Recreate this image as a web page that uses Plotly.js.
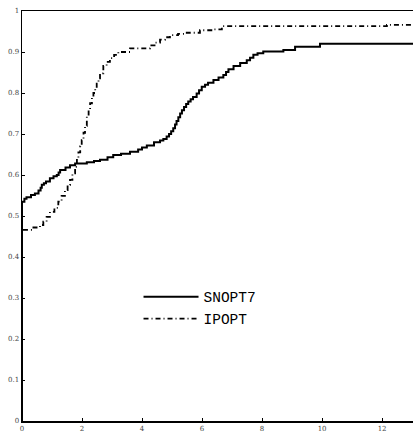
<!DOCTYPE html>
<html>
<head>
<meta charset="utf-8">
<script src="https://cdn.plot.ly/plotly-3.0.1.min.js"></script>
<style>html,body{margin:0;padding:0;background:#fff;}#chart{width:413px;height:432px;}</style>
</head>
<body>
<div id="chart"></div>
<script>
var seriesNames = ["SNOPT7", "IPOPT"];
var snoptX = [0,0,0.08,0.15,0.3,0.43,0.55,0.62,0.66,0.73,0.8,0.93,1.05,1.16,1.22,1.27,1.45,1.6,1.77,2.16,2.4,2.6,2.85,3.04,3.3,3.6,3.87,4.0,4.16,4.4,4.6,4.71,4.82,4.9,4.97,5.04,5.1,5.15,5.21,5.27,5.33,5.4,5.47,5.54,5.62,5.7,5.82,5.9,5.99,6.1,6.2,6.38,6.55,6.71,6.8,6.88,7.05,7.27,7.49,7.6,7.71,7.85,8.04,8.71,9.1,9.93,13.1];
var snoptY = [0,0.535,0.542,0.546,0.551,0.555,0.562,0.569,0.576,0.58,0.584,0.592,0.597,0.600,0.606,0.612,0.618,0.624,0.628,0.631,0.634,0.637,0.643,0.649,0.652,0.657,0.662,0.667,0.672,0.680,0.684,0.688,0.694,0.700,0.707,0.714,0.723,0.732,0.741,0.750,0.758,0.766,0.773,0.779,0.785,0.790,0.799,0.807,0.815,0.820,0.825,0.832,0.838,0.844,0.851,0.858,0.866,0.873,0.880,0.886,0.893,0.897,0.901,0.905,0.913,0.920,0.920];
var ipoptX = [0,0,0.38,0.6,0.71,0.82,0.93,1.08,1.21,1.32,1.43,1.52,1.6,1.68,1.77,1.83,1.88,1.94,1.99,2.05,2.1,2.16,2.22,2.27,2.33,2.38,2.44,2.49,2.55,2.6,2.71,2.82,2.93,3.07,3.21,3.6,4.27,4.45,4.6,4.77,4.93,5.2,5.49,5.93,6.38,6.66,12.16,13.1];
var ipoptY = [0,0.466,0.472,0.478,0.486,0.498,0.51,0.52,0.535,0.549,0.563,0.576,0.588,0.604,0.62,0.637,0.655,0.670,0.685,0.703,0.72,0.742,0.758,0.775,0.788,0.80,0.812,0.823,0.836,0.848,0.866,0.876,0.885,0.893,0.90,0.909,0.916,0.923,0.93,0.936,0.941,0.944,0.947,0.953,0.955,0.963,0.966,0.966];
var xTicks = [0,2,4,6,8,10,12];
var yTicks = [0,0.1,0.2,0.3,0.4,0.5,0.6,0.7,0.8,0.9,1];
var yTickText = ["0","0.1","0.2","0.3","0.4","0.5","0.6","0.7","0.8","0.9","1"];

var traces = [
  {x: snoptX, y: snoptY, name: seriesNames[0], mode: "lines", line: {shape: "hv", color: "#000", width: 2}},
  {x: ipoptX, y: ipoptY, name: seriesNames[1], mode: "lines", line: {shape: "hv", color: "#000", width: 1.8, dash: "5px,3px,1px,3px"}}
];
var tickFont = {family: "DejaVu Serif, serif", size: 7, color: "#444"};
var layout = {
  width: 413, height: 432,
  margin: {l: 22, r: 0, t: 11, b: 11, pad: 0},
  paper_bgcolor: "#fff", plot_bgcolor: "#fff",
  showlegend: true,
  legend: {x: 0.298, y: 0.342, xanchor: "left", yanchor: "top", bgcolor: "rgba(0,0,0,0)",
           font: {family: "Liberation Mono, DejaVu Sans Mono, monospace", size: 14.5, color: "#000"},
           itemwidth: 55, tracegroupgap: 0},
  xaxis: {range: [0, 13.03], tickvals: xTicks, ticks: "inside", ticklen: 3, tickwidth: 1, tickcolor: "#000",
          showline: true, linecolor: "#000", linewidth: 1.5, mirror: true, showgrid: false, zeroline: false,
          tickfont: tickFont, ticklabelstandoff: 0},
  yaxis: {range: [0, 1], tickvals: yTicks, ticktext: yTickText, ticks: "inside", ticklen: 3, tickwidth: 1, tickcolor: "#000",
          showline: true, linecolor: "#000", linewidth: 1.5, mirror: false, showgrid: false, zeroline: false,
          tickfont: tickFont}
};
Plotly.newPlot("chart", traces, layout, {staticPlot: true, displayModeBar: false});
</script>
</body>
</html>
